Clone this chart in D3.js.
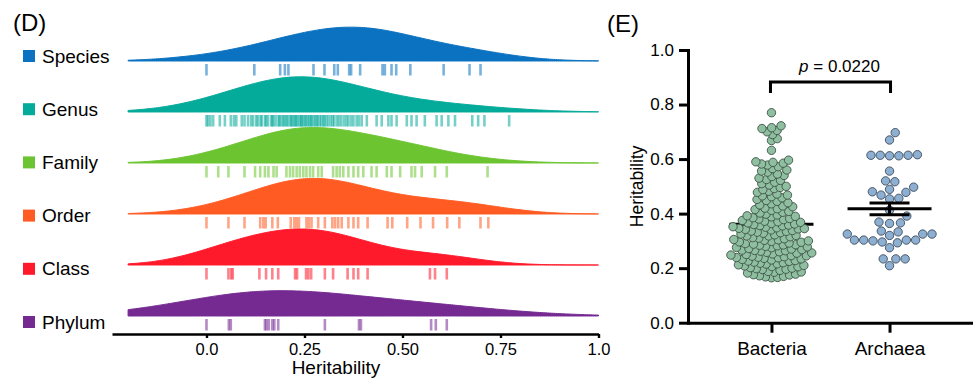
<!DOCTYPE html>
<html>
<head>
<meta charset="utf-8">
<script src="https://cdn.jsdelivr.net/npm/d3@7"></script>
<style>
  body { margin: 0; background: #fff; }
  svg { display: block; font-family: "Liberation Sans", Arial, sans-serif; }
</style>
</head>
<body>
<svg id="chart" width="973" height="381"></svg>
<script>
// ---- Panel D data: heritability per taxonomic level (rug values) ----
const taxa = ["Species", "Genus", "Family", "Order", "Class", "Phylum"];
const taxaColors = ["#0a72c0", "#04aa9a", "#6cc530", "#ff5b22", "#ff1a2b", "#752a92"];
const bandwidths = [0.115, 0.13, 0.105, 0.105, 0.11, 0.2];

const speciesH = [0.000, 0.122, 0.188, 0.200, 0.209, 0.273, 0.301, 0.326, 0.335, 0.364, 0.369,
  0.392, 0.449, 0.455, 0.472, 0.484, 0.520, 0.605, 0.671, 0.699];
const genusH = [0.000, 0.004, 0.010, 0.017, 0.034, 0.047, 0.062, 0.070, 0.076, 0.090, 0.097, 0.106,
  0.114, 0.119, 0.127, 0.131, 0.138, 0.141, 0.149, 0.152, 0.157, 0.165, 0.168, 0.171, 0.177, 0.184,
  0.186, 0.191, 0.196, 0.199, 0.204, 0.207, 0.213, 0.216, 0.219, 0.223, 0.227, 0.229, 0.233, 0.238,
  0.241, 0.243, 0.247, 0.251, 0.254, 0.258, 0.262, 0.266, 0.268, 0.273, 0.277, 0.281, 0.284, 0.289,
  0.293, 0.298, 0.301, 0.306, 0.311, 0.317, 0.322, 0.326, 0.333, 0.338, 0.344, 0.351, 0.357, 0.362,
  0.369, 0.375, 0.383, 0.389, 0.396, 0.409, 0.434, 0.447, 0.464, 0.472, 0.485, 0.511, 0.523, 0.536,
  0.557, 0.587, 0.600, 0.617, 0.634, 0.678, 0.693, 0.709, 0.772];
const familyH = [0.000, 0.030, 0.056, 0.097, 0.124, 0.137, 0.149, 0.158, 0.171, 0.179, 0.204, 0.213,
  0.221, 0.230, 0.238, 0.247, 0.255, 0.264, 0.272, 0.285, 0.294, 0.323, 0.332, 0.340, 0.349, 0.362,
  0.375, 0.387, 0.400, 0.421, 0.434, 0.460, 0.472, 0.494, 0.523, 0.532, 0.549, 0.583, 0.613, 0.717];
const orderH = [0.000, 0.056, 0.097, 0.137, 0.145, 0.151, 0.168, 0.182, 0.215, 0.224, 0.230, 0.236,
  0.255, 0.261, 0.268, 0.285, 0.302, 0.321, 0.328, 0.336, 0.345, 0.362, 0.375, 0.387, 0.411, 0.462,
  0.474, 0.512, 0.546, 0.578, 0.614, 0.645, 0.699, 0.719];
const classH = [0.000, 0.056, 0.063, 0.067, 0.135, 0.152, 0.168, 0.183, 0.226, 0.231, 0.254, 0.260,
  0.267, 0.302, 0.323, 0.360, 0.375, 0.387, 0.411, 0.570, 0.583, 0.613];
const phylumH = [0.000, 0.057, 0.062, 0.149, 0.153, 0.159, 0.168, 0.173, 0.183, 0.302, 0.389, 0.394,
  0.573, 0.585, 0.613];
const taxaValues = [speciesH, genusH, familyH, orderH, classH, phylumH];
const xTickValues = [0, 0.25, 0.5, 0.75, 1.0];
const xTickLabels = ["0.0", "0.25", "0.50", "0.75", "1.0"];

// ---- Panel E data: bacteria vs archaea ----
const groups = ["Bacteria", "Archaea"];
const groupFill = ["#8fbfa0", "#8cafd2"];
const groupStroke = ["#3d5446", "#3d4c5e"];
const bacteriaH = [0.770, 0.722, 0.715, 0.712, 0.705, 0.700, 0.690, 0.675, 0.668, 0.632,
  0.596, 0.590, 0.588, 0.585, 0.582, 0.578, 0.572, 0.565, 0.560, 0.556, 0.552,
  0.545, 0.540, 0.536, 0.530, 0.525, 0.522, 0.515, 0.510, 0.505, 0.500, 0.496, 0.492,
  0.488, 0.482, 0.478, 0.472, 0.468, 0.465, 0.462, 0.458, 0.452, 0.448, 0.445, 0.440, 0.436, 0.432,
  0.428, 0.425, 0.420, 0.418, 0.415, 0.412, 0.408, 0.405, 0.402,
  0.398, 0.395, 0.392, 0.390, 0.388, 0.385, 0.382, 0.380, 0.378, 0.375, 0.372, 0.370,
  0.368, 0.366, 0.364, 0.362, 0.360, 0.358, 0.356, 0.355, 0.352, 0.350, 0.348, 0.346, 0.345, 0.344, 0.342, 0.340,
  0.338, 0.335, 0.332, 0.330, 0.328, 0.325, 0.322, 0.320, 0.318, 0.315, 0.312, 0.310,
  0.308, 0.305, 0.302, 0.300, 0.298, 0.295, 0.292, 0.290, 0.288, 0.285, 0.282, 0.280,
  0.278, 0.275, 0.272, 0.270, 0.268, 0.265, 0.262, 0.260, 0.258, 0.255, 0.252, 0.250,
  0.248, 0.245, 0.242, 0.240, 0.238, 0.236, 0.234, 0.232, 0.230, 0.228, 0.225, 0.222, 0.220,
  0.218, 0.215, 0.212, 0.210, 0.208, 0.205, 0.202, 0.200, 0.198, 0.195, 0.192,
  0.188, 0.185, 0.182, 0.178, 0.175, 0.172, 0.170, 0.168, 0.165,
  0.296, 0.286, 0.276, 0.266, 0.256, 0.246, 0.239, 0.226, 0.216, 0.206, 0.196, 0.186, 0.176, 0.166,
  0.244, 0.264, 0.284, 0.304, 0.318, 0.336];
const archaeaH = [0.697, 0.670, 0.612, 0.612, 0.614, 0.616, 0.614, 0.614, 0.556, 0.520, 0.517, 0.497,
  0.489, 0.480, 0.478, 0.468, 0.456, 0.454, 0.413, 0.391, 0.366, 0.369, 0.364, 0.336, 0.333,
  0.325, 0.325, 0.325, 0.320, 0.303, 0.303, 0.303, 0.303, 0.300, 0.296, 0.293, 0.275,
  0.234, 0.234, 0.234, 0.209];
const groupValues = [bacteriaH, archaeaH];
const swarmSpacing = [6.1, 9.3];
const yTickValues = [0, 0.2, 0.4, 0.6, 0.8, 1.0];
const pLabel = "0.0220";

const svg = d3.select("#chart");

// ================= Panel D =================
const xD = d3.scaleLinear().domain([-0.241, 1.0]).range([112, 598.5]);
const baseY = d3.scalePoint().domain(taxa).range([61, 316]);
const legendY = d3.scalePoint().domain(taxa).range([56, 322]);
const grid = d3.range(-0.2, 1.0001, 0.005);

function kde(values, bw) {
  const k = 1 / (bw * Math.sqrt(2 * Math.PI));
  return grid.map(g => [g, k * d3.mean(values, v => Math.exp(-0.5 * ((g - v) / bw) ** 2))]);
}

const densities = taxaValues.map((vals, i) => kde(vals, bandwidths[i]));
const maxDens = d3.max(densities, d => d3.max(d, p => p[1]));
const hScale = d3.scaleLinear().domain([0, maxDens]).range([0, 36]);

svg.append("text").attr("x", 13).attr("y", 31).attr("font-size", 24).text("(D)");

const rows = svg.append("g").selectAll("g").data(taxa).join("g");

rows.append("path")
  .attr("d", (t, i) => d3.area()
    .x(p => xD(p[0]))
    .y0(baseY(t))
    .y1(p => baseY(t) - hScale(p[1]))
    .curve(d3.curveBasis)(densities[i]))
  .attr("fill", (t, i) => taxaColors[i])
  .attr("stroke", (t, i) => taxaColors[i])
  .attr("stroke-width", 1);

rows.each(function (t, i) {
  d3.select(this).selectAll("rect.rug")
    .data(taxaValues[i])
    .join("rect")
    .attr("class", "rug")
    .attr("x", v => xD(v) - 1.3)
    .attr("y", baseY(t) + 3)
    .attr("width", 2.6)
    .attr("height", 11.5)
    .attr("fill", taxaColors[i])
    .attr("opacity", 0.55);
});

// legend
const legend = svg.append("g").selectAll("g").data(taxa).join("g")
  .attr("transform", t => `translate(0,${legendY(t)})`);
legend.append("rect")
  .attr("x", 23).attr("y", -6).attr("width", 12).attr("height", 12)
  .attr("fill", (t, i) => taxaColors[i]);
legend.append("text")
  .attr("x", 42).attr("y", 6.5).attr("font-size", 19).text(t => t);

// x axis
const axD = svg.append("g")
  .attr("transform", "translate(0,334)")
  .call(d3.axisBottom(xD)
    .tickValues(xTickValues)
    .tickFormat((d, i) => xTickLabels[i])
    .tickSize(4).tickSizeOuter(0).tickPadding(5));
axD.select(".domain").attr("stroke-width", 2.6);
axD.selectAll(".tick line").attr("stroke-width", 2.4);
axD.selectAll(".tick text").attr("font-size", 16.5).attr("font-family", null).attr("fill", "#000");

svg.append("text").attr("x", 336).attr("y", 374).attr("text-anchor", "middle")
  .attr("font-size", 19).text("Heritability");

// ================= Panel E =================
const yE = d3.scaleLinear().domain([0, 1]).range([322.7, 50]);
const xE = d3.scalePoint().domain(groups).range([688, 973]).padding(0.707);

svg.append("text").attr("x", 607).attr("y", 32).attr("font-size", 24).text("(E)");

// beeswarm offsets
function swarm(values, spacing) {
  const placed = [];
  const pts = values.map(v => ({ v, y: yE(v) })).sort((a, b) => a.v - b.v);
  for (const p of pts) {
    const near = placed.filter(q => Math.abs(q.y - p.y) < spacing);
    const cands = [0];
    near.forEach(q => {
      const dx = Math.sqrt(spacing * spacing - (q.y - p.y) ** 2);
      cands.push(q.dx + dx, q.dx - dx);
    });
    cands.sort((a, b) => Math.abs(a) - Math.abs(b));
    for (const c of cands) {
      if (near.every(q => (q.dx - c) ** 2 + (q.y - p.y) ** 2 >= spacing * spacing - 1e-6)) {
        p.dx = c;
        break;
      }
    }
    placed.push(p);
  }
  return placed;
}

const stats = groupValues.map(vals => {
  const m = d3.mean(vals);
  const se = d3.deviation(vals) / Math.sqrt(vals.length);
  return { m, se };
});

function drawMean(i) {
  const cx = xE(groups[i]);
  const s = stats[i];
  const grp = svg.append("g").attr("stroke", "#000").attr("stroke-width", 3).attr("fill", "none");
  grp.append("line").attr("x1", cx - 42).attr("x2", cx + 42).attr("y1", yE(s.m)).attr("y2", yE(s.m));
  grp.append("line").attr("x1", cx).attr("x2", cx).attr("y1", yE(s.m + s.se)).attr("y2", yE(s.m - s.se));
  grp.append("line").attr("x1", cx - 20).attr("x2", cx + 20).attr("y1", yE(s.m + s.se)).attr("y2", yE(s.m + s.se));
  grp.append("line").attr("x1", cx - 20).attr("x2", cx + 20).attr("y1", yE(s.m - s.se)).attr("y2", yE(s.m - s.se));
}

// bacteria: mean behind points; archaea: mean on top
drawMean(0);
groups.forEach((gname, i) => {
  const cx = xE(gname);
  svg.append("g").selectAll("circle")
    .data(swarm(groupValues[i], swarmSpacing[i]))
    .join("circle")
    .attr("cx", p => cx + p.dx)
    .attr("cy", p => p.y)
    .attr("r", 4.2)
    .attr("fill", groupFill[i])
    .attr("stroke", groupStroke[i])
    .attr("stroke-width", 0.9);
});
drawMean(1);

// axes
const axY = svg.append("g")
  .attr("transform", "translate(688,0)")
  .call(d3.axisLeft(yE).tickValues(yTickValues).tickFormat(d3.format(".1f"))
    .tickSize(9).tickSizeOuter(0).tickPadding(5));
axY.select(".domain").attr("stroke-width", 3).attr("stroke-linecap", "square");
axY.selectAll(".tick line").attr("stroke-width", 3);
axY.selectAll(".tick text").attr("font-size", 17).attr("font-family", null).attr("fill", "#000");

const axX = svg.append("g")
  .attr("transform", "translate(0,322.7)")
  .call(d3.axisBottom(xE).tickSize(10).tickSizeOuter(0).tickPadding(9));
axX.select(".domain").attr("stroke-width", 3);
axX.selectAll(".tick line").attr("stroke-width", 3);
axX.selectAll(".tick text").attr("font-size", 19).attr("font-family", null).attr("fill", "#000");

svg.append("text")
  .attr("transform", `translate(643,${yE(0.5)}) rotate(-90)`)
  .attr("text-anchor", "middle").attr("font-size", 17.5).text("Heritability");

// significance bracket
const bx1 = xE(groups[0]) - 1, bx2 = xE(groups[1]) + 1;
svg.append("path")
  .attr("d", `M${bx1},93V82H${bx2}V93`)
  .attr("fill", "none").attr("stroke", "#000").attr("stroke-width", 3);
const pt = svg.append("text").attr("x", (bx1 + bx2) / 2 + 9).attr("y", 72)
  .attr("text-anchor", "middle").attr("font-size", 17);
pt.append("tspan").attr("font-style", "italic").text("p");
pt.append("tspan").text(" = " + pLabel);
</script>
</body>
</html>
